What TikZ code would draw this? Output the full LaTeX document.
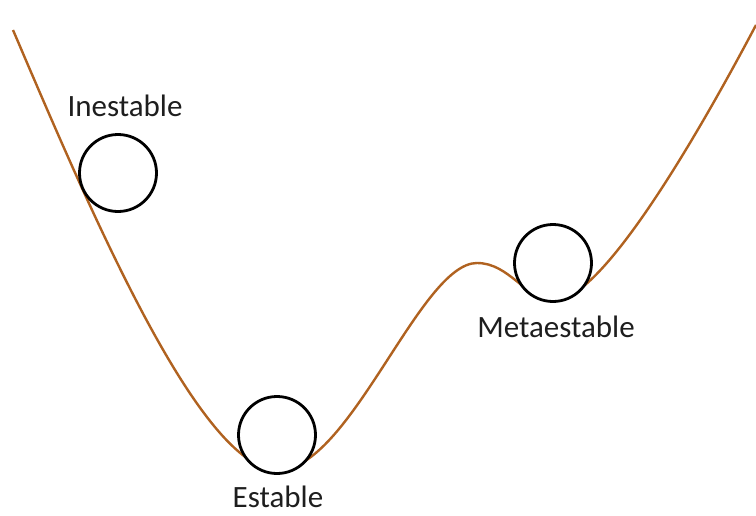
\documentclass[tikz,border=0pt]{standalone}
\usepackage{fontspec}
\setmainfont{Carlito}
\definecolor{curvecol}{RGB}{176,98,32}
\definecolor{txtcol}{RGB}{30,30,30}
\begin{document}
\begin{tikzpicture}[x=1pt,y=-1pt,
  ball/.style={circle,draw=black,fill=white,line width=2.8pt,minimum size=77pt,inner sep=0pt},
  lbl/.style={anchor=base,text=txtcol,font=\fontsize{31}{37}\selectfont,inner sep=0pt},
  well/.style={draw=curvecol,line width=2.4pt}]
\useasboundingbox (0,0) rectangle (756,515);
\path[well] (13,30) .. controls (90,210) and (200,470) .. (278,470)
  .. controls (350,470) and (420,263) .. (477,263)
  .. controls (510,263) and (525,300) .. (555,300)
  .. controls (600,300) and (690,150) .. (756,25);
\node[ball] (inest) at (118,173) {};
\node[ball] (est) at (277,435) {};
\node[ball] (meta) at (553,263) {};
\node[lbl] (linest) at (125,116) {Inestable};
\node[lbl] (lest) at (278,507) {Estable};
\node[lbl] (lmeta) at (556,337) {Metaestable};
\end{tikzpicture}
\end{document}
